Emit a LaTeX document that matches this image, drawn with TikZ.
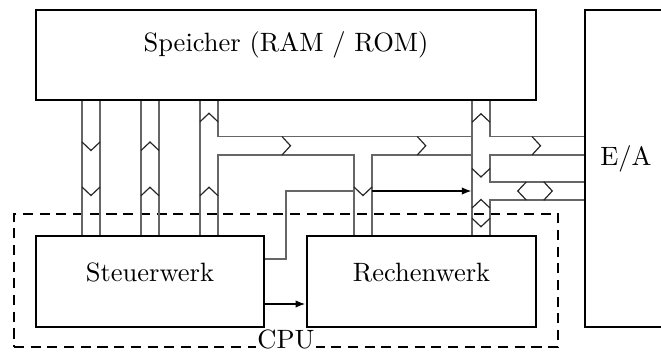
\documentclass[tikz,border=0pt]{standalone}
\usetikzlibrary{fit,arrows.meta}
\begin{document}
\begin{tikzpicture}[x=0.3774pt,y=-0.3774pt,
  box/.style={draw, line width=1pt, inner sep=0pt},
  bus/.style={draw=black!60, line width=0.45pt},
  chev/.style={draw=black!85, line width=0.45pt},
  arr/.style={draw, line width=1pt, -{Latex[length=3.8pt,width=2.8pt]}},
  cpubox/.style={draw, line width=1pt, dash pattern=on 3.8pt off 2.5pt, inner sep=0pt},
  pics/chevdown/.style={code={\draw[chev] (-9,-4.25)--(0,4.25)--(9,-4.25);}},
  pics/chevup/.style={code={\draw[chev] (-9,4.25)--(0,-4.25)--(9,4.25);}},
  pics/chevright/.style={code={\draw[chev] (-4.25,-9.25)--(4.25,0)--(-4.25,9.25);}},
  pics/chevleft/.style={code={\draw[chev] (4.25,-9)--(-4.25,0)--(4.25,9);}}]
\useasboundingbox (0,0) rectangle (661,352);
\clip (0,0) rectangle (661,352);

% boxes
\node[cpubox, fit={(14,214)(558,347)}] (cpu) {};
\node[box, fit={(36,10)(536,100)}] (mem) {Speicher (RAM / ROM)};
\node[box, fit={(585,10)(667,327)}] (io) {E/A};
\node[box, fit={(36,236)(264,327)}] (stw) {Steuerwerk};
\node[box, fit={(307,236)(536,327)}] (rw) {Rechenwerk};

% vertical buses from memory
\draw[bus] (82,0 |- mem.south) -- (82,0 |- stw.north)
           (100,0 |- mem.south) -- (100,0 |- stw.north)
           (141,0 |- mem.south) -- (141,0 |- stw.north)
           (159,0 |- mem.south) -- (159,0 |- stw.north)
           (200,0 |- mem.south) -- (200,0 |- stw.north);
% bus 3 branching into horizontal bus H1
\draw[bus] (218,0 |- mem.south) -- (218,136.5) -- (472,136.5);
\draw[bus] (218,0 |- stw.north) -- (218,155) -- (354,155) -- (354,0 |- rw.north);
\draw[bus] (372,0 |- rw.north) -- (372,155) -- (472,155);
% main bus M
\draw[bus] (472,0 |- mem.south) -- (472,0 |- rw.north);
\draw[bus] (490,0 |- mem.south) -- (490,136.5) -- (io.west |- 0,136.5);
\draw[bus] (io.west |- 0,155) -- (490,155) -- (490,182) -- (io.west |- 0,182);
\draw[bus] (io.west |- 0,200) -- (490,200) -- (490,0 |- rw.north);

% chevrons
\pic at (91,146.25) {chevdown};
\pic at (91,191.25) {chevdown};
\pic at (150,146.25) {chevup};
\pic at (150,191.5) {chevup};
\pic at (209,117.5) {chevup};
\pic at (209,191.5) {chevup};
\pic at (363,191.25) {chevdown};
\pic at (481,118) {chevup};
\pic at (481,172.75) {chevdown};
\pic at (481,203.75) {chevup};
\pic at (481,222.5) {chevdown};
\pic at (286.25,145.75) {chevright};
\pic at (421.5,145.75) {chevright};
\pic at (536.25,145.75) {chevright};
\pic at (522,191) {chevleft};
\pic at (548,191) {chevright};

% control lines
\draw[bus] (stw.east |- 0,259) -| (286,191) -- (354,191);
\draw[arr] (372,191) -- (472,191);
\draw[arr] (stw.east |- 0,304) -- (rw.west |- 0,304);

% CPU label
\node[fill=white, inner sep=0.6pt, anchor=base] (cpulabel) at (286,348) {CPU};
\end{tikzpicture}
\end{document}
